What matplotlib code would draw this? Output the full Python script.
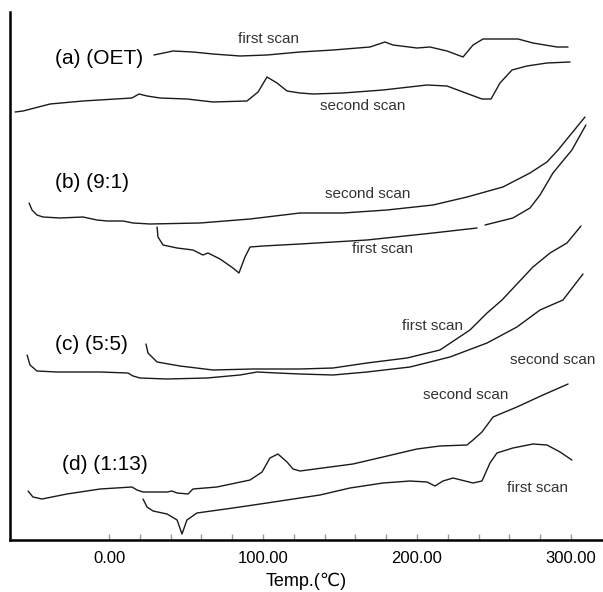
import numpy as np
import matplotlib.pyplot as plt

plt.rcParams["font.family"] = ["Liberation Sans", "DejaVu Sans"]

# (a) OET
a_first_t = [29.2, 41.6, 54.5, 67.5, 85.1, 102.6, 124.0, 145.5, 169.5, 179.2, 184.4, 200.0,
             208.4, 219.5, 229.9, 236.4, 242.9, 253.9, 265.6, 275.3, 290.9, 298.1]
a_first_v = [485, 489, 488, 486, 484, 485, 488, 490, 493, 498, 495, 492,
             493, 489, 483, 495, 501, 501, 501, 497, 493, 493]
a_second_t = [-61.0, -55.8, -38.3, -16.9, 14.9, 19.5, 24.7, 33.1, 50.6, 67.5, 89.6, 96.8,
              102.6, 109.1, 115.6, 124.0, 132.5, 151.9, 177.9, 206.5, 219.5, 229.9,
              242.2, 248.1, 253.9, 261.7, 271.4, 284.4, 299.4]
a_second_v = [428, 429, 436, 439, 442, 446, 444, 442, 441, 438, 439, 448,
              463, 457, 449, 447, 446, 447, 450, 455, 454, 448,
              441, 441, 457, 470, 474, 477, 478]

# (b) 9:1
b_second_t = [-51.9, -50.0, -46.8, -42.9, -31.8, -16.9, -7.8, -1.3, 9.1, 15.6, 26.6, 59.1,
              91.6, 124.0, 151.9, 180.5, 210.4, 232.5, 255.8, 273.4, 284.4, 291.6, 309.1]
b_second_v = [337, 330, 325, 323, 322, 323, 320, 319, 319, 317, 316, 317,
              321, 327, 327, 330, 335, 343, 353, 367, 378, 390, 423]
b_first_t = [31.2, 31.8, 35.1, 44.2, 54.5, 61.0, 64.3, 72.1, 80.5, 84.4, 88.3, 91.6,
             100.0, 124.0, 167.5, 210.4, 239.0, np.nan, 244.2, 262.3, 273.4, 279.9,
             288.3, 300.6, 309.7]
b_first_v = [313, 303, 295, 292, 290, 285, 287, 281, 272, 267, 283, 293,
             294, 296, 300, 307, 312, np.nan, 315, 322, 332, 345,
             367, 390, 415]

# (c) 5:5
c_first_t = [24.0, 25.3, 31.2, 46.1, 67.5, 93.5, 124.0, 145.5, 167.5, 193.5, 214.9, 234.4,
             245.5, 255.2, 275.3, 286.4, 297.4, 306.5]
c_first_v = [196, 187, 178, 174, 170, 171, 171, 172, 177, 182, 190, 210,
             227, 240, 273, 287, 297, 314]
c_second_t = [-53.2, -51.3, -46.8, -33.8, -5.8, 12.3, 15.6, 20.1, 37.7, 63.6, 85.1, 96.1,
              109.1, 124.0, 145.5, 167.5, 195.5, 221.4, 245.5, 264.9, 279.9, 294.8, 307.8]
c_second_v = [185, 175, 169, 168, 168, 167, 164, 162, 161, 162, 165, 168,
              167, 166, 165, 168, 173, 183, 197, 213, 230, 240, 266]

# (d) 1:13
d_second_t = [-52.6, -49.4, -43.5, -27.3, -5.8, 14.9, 18.2, 22.1, 37.7, 40.9, 44.2, 51.3,
              54.5, 70.1, 91.6, 99.4, 104.5, 109.7, 115.6, 119.5, 124.0, 158.4, 177.9,
              200.0, 214.9, 232.5, 236.4, 242.2, 249.4, 264.9, 281.8, 298.1]
d_second_v = [49, 43, 41, 46, 51, 53, 50, 48, 48, 49, 47, 46,
              51, 53, 60, 68, 82, 86, 78, 71, 69, 76, 83,
              91, 94, 95, 100, 108, 123, 133, 145, 156]
d_first_t = [22.1, 24.7, 28.6, 37.7, 44.2, 47.4, 50.6, 57.1, 80.5, 102.6, 124.0, 137.0,
             156.5, 177.9, 195.5, 206.5, 211.7, 216.9, 223.4, 236.4, 242.2, 247.4,
             251.9, 262.3, 275.3, 284.4, 292.9, 300.6]
d_first_v = [41, 33, 29, 26, 20, 6, 20, 27, 32, 37, 42, 45,
             52, 57, 59, 58, 54, 59, 62, 57, 59, 77,
             87, 92, 96, 95, 88, 80]

curves = [(a_first_t, a_first_v), (a_second_t, a_second_v),
          (b_second_t, b_second_v), (b_first_t, b_first_v),
          (c_first_t, c_first_v), (c_second_t, c_second_v),
          (d_second_t, d_second_v), (d_first_t, d_first_v)]

panel_labels = ["(a) (OET)", "(b) (9:1)", "(c) (5:5)", "(d) (1:13)"]
panel_pos = [(-35.1, 481), (-35.1, 358), (-35.1, 196), (-30.5, 75)]

scan_labels = ["first scan", "second scan", "second scan", "first scan",
               "first scan", "second scan", "second scan", "first scan"]
scan_pos = [(83.8, 501), (137.0, 434), (140.3, 346), (157.8, 291),
            (190.3, 214), (260.4, 180), (203.9, 145), (258.4, 52)]

fig = plt.figure(figsize=(6.03, 5.92), dpi=100)
ax = fig.add_axes([10 / 603, 52 / 592, 593 / 603, 528 / 592])

for t, v in curves:
    ax.plot(t, v, color="#1a1a1a", linewidth=1.0,
            solid_joinstyle="round", solid_capstyle="round")

for lab, (x, y) in zip(panel_labels, panel_pos):
    ax.text(x, y, lab, fontsize=15, ha="left", va="center", color="black")
for lab, (x, y) in zip(scan_labels, scan_pos):
    ax.text(x, y, lab, fontsize=11, ha="left", va="center", color="#333333")

ax.set_xlim(-64.3, 320.8)
ax.set_ylim(0, 528)
ticks = list(range(0, 301, 20))
ax.set_xticks(ticks)
ax.set_xticklabels(["%.2f" % t if t % 100 == 0 else "" for t in ticks], fontsize=12)
ax.tick_params(axis="x", direction="in", length=4, width=1, color="#999999", pad=8)
ax.set_yticks([])
ax.spines["top"].set_visible(False)
ax.spines["right"].set_visible(False)
ax.spines["left"].set_linewidth(1.8)
ax.spines["bottom"].set_linewidth(1.8)
ax.set_xlabel("Temp.(\u2103)", fontsize=13, labelpad=5)

fig.savefig("out.png", dpi=100)
